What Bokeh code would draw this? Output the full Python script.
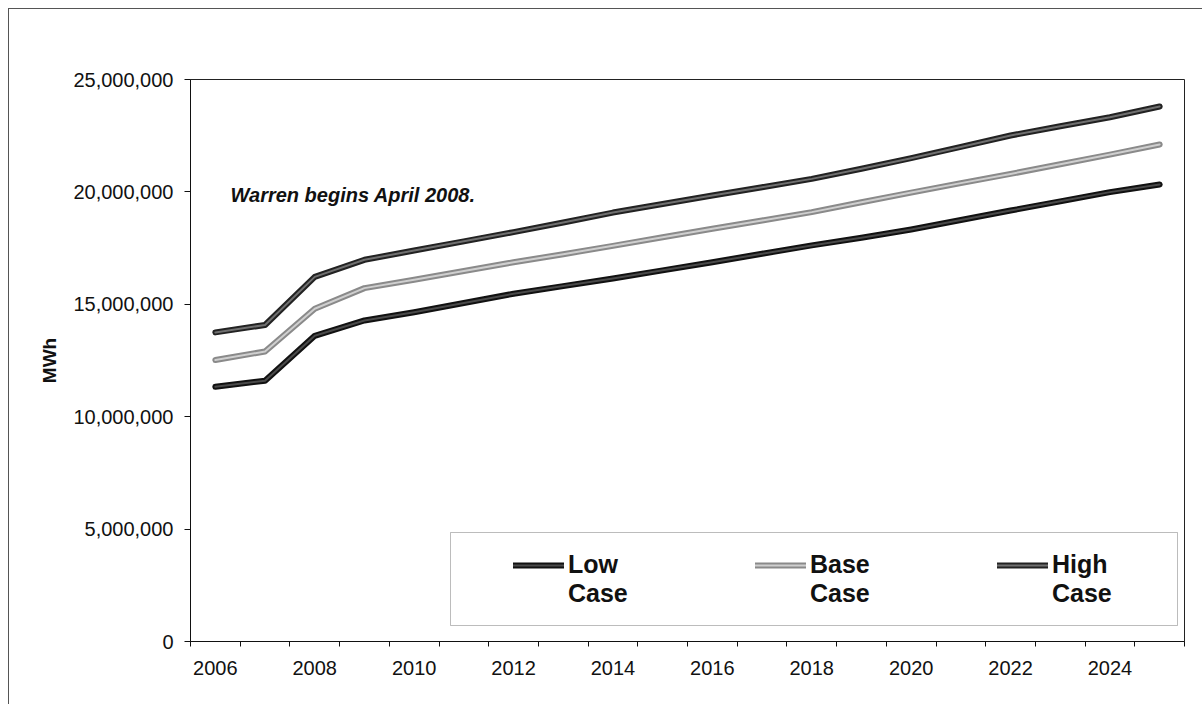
from bokeh.plotting import figure
from bokeh.models import (Range1d, FixedTicker, NumeralTickFormatter, Legend,
                          LegendItem, BoxAnnotation, Label)
from bokeh.embed import file_html
from bokeh.resources import INLINE

# Annual energy forecast (millions of MWh) by scenario
years = list(range(2006, 2026))
high_case = [13.75, 14.08, 16.22, 16.98, 17.39, 17.80, 18.21, 18.64, 19.08, 19.46,
             19.84, 20.21, 20.58, 21.03, 21.50, 22.00, 22.51, 22.92, 23.32, 23.80]
base_case = [12.52, 12.90, 14.80, 15.72, 16.09, 16.48, 16.87, 17.23, 17.60, 17.98,
             18.36, 18.73, 19.10, 19.54, 19.97, 20.39, 20.80, 21.23, 21.66, 22.11]
low_case = [11.33, 11.60, 13.60, 14.28, 14.65, 15.06, 15.47, 15.81, 16.15, 16.51,
            16.87, 17.25, 17.62, 17.96, 18.33, 18.75, 19.17, 19.58, 19.99, 20.33]
series_names = ["Low\nCase", "Base\nCase", "High\nCase"]
y_ticks = [0, 5_000_000, 10_000_000, 15_000_000, 20_000_000, 25_000_000]
x_label_years = list(range(2006, 2025, 2))
note_text = "Warren begins April 2008."

FONT = "Liberation Sans"

p = figure(frame_width=994, frame_height=562,
           min_border_left=181, min_border_top=70,
           min_border_right=18, min_border_bottom=63,
           x_range=Range1d(2005.5, 2025.5), y_range=Range1d(0, 25_000_000),
           output_backend="svg", toolbar_location=None, tools="")
p.margin = (8, 0, 0, 8)
p.styles = {"border-left": "1px solid #555555", "border-top": "1px solid #555555"}

p.grid.visible = False
p.outline_line_color = "#222222"
p.outline_line_width = 1
p.background_fill_color = "white"
p.border_fill_color = "white"

# x axis: labels every other year, tick marks between categories
xa = p.xaxis[0]
xa.ticker = FixedTicker(ticks=x_label_years,
                        minor_ticks=[y - 0.5 for y in range(2006, 2027)])
xa.major_tick_line_color = None
xa.major_tick_out = 0
xa.major_tick_in = 0
xa.minor_tick_line_color = "#111111"
xa.minor_tick_out = 5
xa.minor_tick_in = 0
xa.major_label_standoff = 14
xa.major_label_text_font = FONT
xa.major_label_text_font_size = "20px"
xa.major_label_text_color = "#111111"
xa.axis_line_color = "#111111"

ya = p.yaxis[0]
ya.ticker = FixedTicker(ticks=y_ticks)
ya.formatter = NumeralTickFormatter(format="0,0")
ya.minor_tick_line_color = None
ya.major_tick_out = 6
ya.major_tick_in = 0
ya.major_tick_line_color = "#111111"
ya.major_label_standoff = 11
ya.major_label_text_font = FONT
ya.major_label_text_font_size = "20px"
ya.major_label_text_color = "#111111"
ya.axis_line_color = "#111111"
ya.axis_label = "MWh"
ya.axis_label_text_font = FONT
ya.axis_label_text_font_style = "bold"
ya.axis_label_text_font_size = "19px"
ya.axis_label_standoff = 10
ya.axis_label_text_color = "#111111"

# each series: dark outer stroke with a lighter core
styles = [
    (low_case, "#111111", "#4a4a4a"),
    (base_case, "#8a8a8a", "#cfcfcf"),
    (high_case, "#222222", "#707070"),
]
items = []
for (vals, outer, inner), name in zip(styles, series_names):
    mwh = [v * 1_000_000 for v in vals]
    r1 = p.line(years, mwh, line_width=6, line_color=outer,
                line_cap="round", line_join="round")
    r2 = p.line(years, mwh, line_width=2, line_color=inner,
                line_cap="round", line_join="round")
    # leading blank line keeps the sample level with the first word
    items.append(LegendItem(label="\n" + name, renderers=[r1, r2]))

# legend frame
p.add_layout(BoxAnnotation(left=260, right=987, bottom=16, top=109,
                           left_units="screen", right_units="screen",
                           bottom_units="screen", top_units="screen",
                           fill_color=None, line_color="#222222", line_width=1))

legend = Legend(items=items, orientation="horizontal", location=(323, 33),
                padding=0, margin=0, spacing=117,
                glyph_width=51, glyph_height=20, label_width=70,
                label_standoff=4, border_line_color=None,
                background_fill_alpha=0,
                label_text_font=FONT, label_text_font_style="bold",
                label_text_font_size="25px", label_text_line_height=1.2,
                label_text_color="#111111")
p.add_layout(legend, "center")

p.add_layout(Label(x=40, y=447, x_units="screen", y_units="screen",
                   text=note_text, text_font=FONT,
                   text_font_style="bold italic", text_font_size="20px",
                   text_color="#111111", text_baseline="alphabetic"))

open("out.html", "w").write(file_html(p, INLINE))
